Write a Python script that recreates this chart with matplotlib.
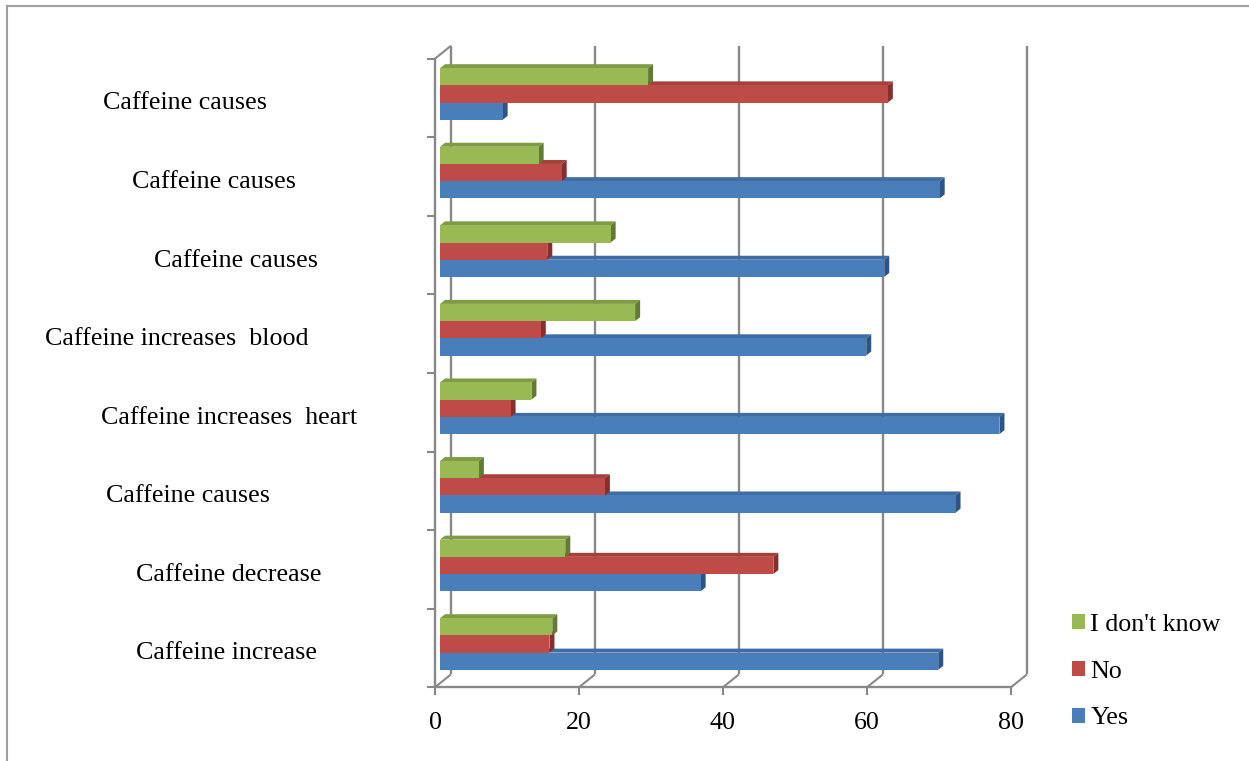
import matplotlib
matplotlib.use("Agg")
import matplotlib.pyplot as plt
from matplotlib import transforms
from matplotlib.patches import Polygon, Rectangle
from matplotlib.lines import Line2D
import numpy as np

# Survey statements (bottom to top) and answer shares in percent
categories = [
    "Caffeine increase",
    "Caffeine decrease",
    "Caffeine causes",
    "Caffeine increases  heart",
    "Caffeine increases  blood",
    "Caffeine causes",
    "Caffeine causes",
    "Caffeine causes",
]
yes = [69.2, 36.2, 71.6, 77.7, 59.2, 61.7, 69.4, 8.7]
no = [15.2, 46.3, 22.9, 9.8, 14.0, 14.9, 16.9, 62.2]
dont_know = [15.6, 17.4, 5.4, 12.7, 27.1, 23.7, 13.7, 28.9]
series_names = ["Yes", "No", "I don't know"]
x_ticks = [0, 20, 40, 60, 80]

# horizontal centre (pixels) of each category label, bottom to top
label_x_px = [226, 229, 188, 229, 177, 236, 214, 185]

W, H, DPI = 1249, 761, 100
FONT = "Liberation Serif"
FS = 18.7

front_colors = ["#4A7EBB", "#BE4B48", "#98B954"]
top_colors = ["#3E6CA3", "#A5403D", "#7F9C45"]
side_colors = ["#2E5486", "#85302E", "#627A34"]
grid_color = "#888888"

fig = plt.figure(figsize=(W / DPI, H / DPI), dpi=DPI)
# axes spans the plane in which the bar fronts sit
ax = fig.add_axes([440 / W, 1 - 683.3 / H, 576 / W, 628.6 / H])
ax.set_xlim(0, 80)
ax.set_ylim(-0.5, len(categories) - 0.5)
ax.axis("off")

# pixel size of one data unit
px_x = 576 / 80
px_y = 628.6 / len(categories)

def shifted(dx, dy):
    return transforms.offset_copy(ax.transData, fig=fig, x=dx, y=dy, units="dots")

back = shifted(11, 9)     # back wall plane
front = shifted(-5, -4)   # front edge of the floor / left wall
n = len(categories)

def fig_line(p0, p1, lw=1.5):
    fig.add_artist(Line2D([p0[0] / W, p1[0] / W], [p0[1] / H, p1[1] / H],
                          color=grid_color, lw=lw, transform=fig.transFigure,
                          zorder=1, solid_capstyle="butt"))

# back-wall gridlines
ax.vlines(x_ticks, -0.5, n - 0.5, colors=grid_color, lw=1.7, transform=back,
          zorder=1, clip_on=False)
# floor: front edge and oblique joins to the back wall
ax.plot([0, 80], [-0.5, -0.5], color=grid_color, lw=1.7, transform=front,
        zorder=1, clip_on=False)
for v in x_ticks:
    p0 = front.transform((v, -0.5))
    p1 = back.transform((v, -0.5))
    fig_line(p0, p1)
    fig_line(p0, (p0[0], p0[1] - 8))
    ax.text(v, -0.5, str(v), transform=shifted(-5, -40), ha="center", va="center",
            fontsize=FS, family=FONT, color="black", clip_on=False)

# left wall: front vertical edge, ticks and top oblique
ax.plot([0, 0], [-0.5, n - 0.5], color=grid_color, lw=1.7, transform=front,
        zorder=1, clip_on=False)
for b in np.arange(-0.5, n, 1.0):
    p0 = front.transform((0, b))
    fig_line((p0[0] - 8, p0[1]), p0)
fig_line(front.transform((0, n - 0.5)), back.transform((0, n - 0.5)))

# bars with a shallow 3D edge
bh = 0.219
dx = 5 / px_x
dy = 4 / px_y
series = [yes, no, dont_know]
offsets = [-bh, 0.0, bh]
for i in range(n):
    for s, (vals, off) in enumerate(zip(series, offsets)):
        v = vals[i]
        y0 = i + off - bh / 2
        y1 = y0 + bh
        z = 3 + s
        ax.barh(i + off, v, height=bh, color=front_colors[s], lw=0, zorder=z,
                label=series_names[s] if i == 0 else None)
        ax.add_patch(Polygon([(0, y1), (v, y1), (v + dx, y1 + dy), (dx, y1 + dy)],
                             closed=True, fc=top_colors[s], lw=0, zorder=z - 0.5,
                             clip_on=False))
        ax.add_patch(Polygon([(v, y0), (v + dx, y0 + dy), (v + dx, y1 + dy), (v, y1)],
                             closed=True, fc=side_colors[s], lw=0, zorder=z - 0.5,
                             clip_on=False))

# category labels
lab_tr = transforms.blended_transform_factory(fig.transFigure, ax.transData)
for i, name in enumerate(categories):
    ax.text(label_x_px[i] / W, i - 0.12, name, transform=lab_tr, ha="center", va="center",
            fontsize=FS, family=FONT, color="black", clip_on=False)

# legend, last series first
handles, labels = ax.get_legend_handles_labels()
leg = fig.legend(handles[::-1], labels[::-1], loc="upper left",
                 bbox_to_anchor=(1072 / W, 1 - 614 / H), frameon=False,
                 borderaxespad=0, borderpad=0, handlelength=0.5, handleheight=0.5,
                 handletextpad=0.2, labelspacing=0.95,
                 prop={"family": FONT, "size": FS})

# outer chart border
fig.add_artist(Rectangle((7 / W, -0.1), 1.2, 1 - 6 / H + 0.1, transform=fig.transFigure,
                         fill=False, ec="#A0A0A0", lw=1.5))

fig.savefig("out.png", dpi=DPI)
